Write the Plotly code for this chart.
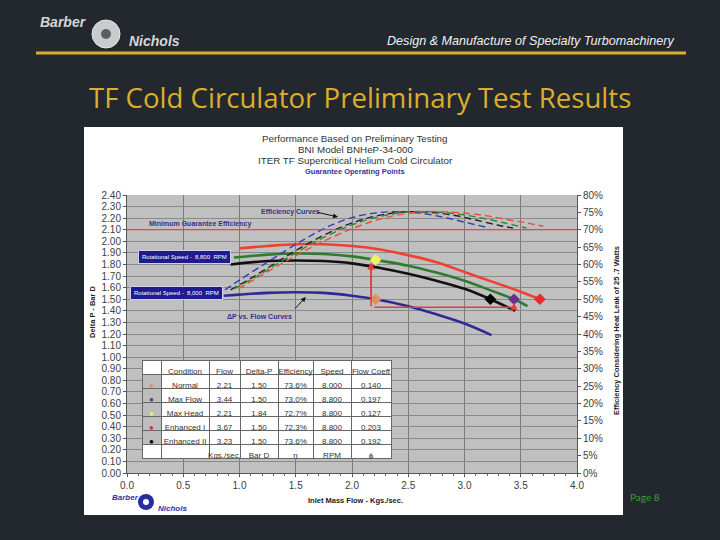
import plotly.graph_objects as go

# ---------------- data ----------------
# Delta-P vs flow curves (left axis, Bar D)
red_flow = [1.00, 1.25, 1.50, 1.75, 2.00, 2.25, 2.50, 2.75, 3.00, 3.25, 3.50, 3.67]
red_dp = [1.94, 1.96, 1.975, 1.975, 1.96, 1.93, 1.88, 1.82, 1.735, 1.65, 1.565, 1.50]
green_flow = [0.95, 1.25, 1.50, 1.75, 2.00, 2.21, 2.50, 2.75, 3.00, 3.25, 3.44, 3.56]
green_dp = [1.86, 1.885, 1.895, 1.89, 1.87, 1.84, 1.79, 1.73, 1.66, 1.57, 1.50, 1.44]
black_flow = [0.92, 1.25, 1.50, 1.75, 2.00, 2.25, 2.50, 2.75, 3.00, 3.23, 3.45]
black_dp = [1.80, 1.83, 1.835, 1.83, 1.81, 1.77, 1.72, 1.66, 1.59, 1.50, 1.40]
blue_flow = [0.86, 1.00, 1.25, 1.50, 1.75, 2.00, 2.21, 2.50, 2.75, 3.00, 3.24]
blue_dp = [1.53, 1.54, 1.555, 1.56, 1.555, 1.53, 1.50, 1.44, 1.37, 1.29, 1.19]

# Efficiency curves (right axis)
eff_blue_flow = [0.87, 1.0, 1.2, 1.4, 1.6, 1.8, 2.0, 2.2, 2.4, 2.6, 2.8, 3.0, 3.22]
eff_blue = [0.527, 0.555, 0.597, 0.638, 0.677, 0.711, 0.735, 0.748, 0.752, 0.748, 0.737, 0.722, 0.705]
eff_black_flow = [0.92, 1.1, 1.3, 1.5, 1.7, 1.9, 2.1, 2.3, 2.5, 2.7, 2.9, 3.1, 3.3, 3.43]
eff_black = [0.527, 0.56, 0.60, 0.64, 0.676, 0.707, 0.73, 0.745, 0.752, 0.75, 0.742, 0.728, 0.713, 0.705]
eff_green_flow = [0.95, 1.15, 1.35, 1.55, 1.75, 1.95, 2.15, 2.35, 2.55, 2.75, 2.95, 3.15, 3.35, 3.55]
eff_green = [0.53, 0.565, 0.605, 0.643, 0.678, 0.708, 0.73, 0.745, 0.752, 0.751, 0.745, 0.734, 0.72, 0.705]
eff_red_flow = [0.99, 1.2, 1.4, 1.6, 1.8, 2.0, 2.2, 2.4, 2.6, 2.8, 3.0, 3.2, 3.4, 3.55, 3.70]
eff_red = [0.53, 0.57, 0.607, 0.643, 0.675, 0.703, 0.726, 0.742, 0.751, 0.752, 0.748, 0.74, 0.728, 0.72, 0.71]

min_guarantee_eff = 0.70

# Guarantee operating points
conditions = ["Normal", "Max Flow", "Max Head", "Enhanced I", "Enhanced II"]
op_flow = [2.21, 3.44, 2.21, 3.67, 3.23]
op_dp = [1.50, 1.50, 1.84, 1.50, 1.50]
op_eff = ["73.6%", "73.0%", "72.7%", "72.3%", "73.6%"]
op_speed = ["8,000", "8,800", "8,800", "8,800", "8,800"]
op_coeff = ["0.140", "0.197", "0.127", "0.203", "0.192"]
op_colors = ["#e0905a", "#6b2f8f", "#f0f060", "#e82a2a", "#000000"]
units = ["", "", "Kgs./sec.", "Bar D", "η", "RPM", "ϕ"]
table_header = ["", "Condition", "Flow", "Delta-P", "Efficiency", "Speed", "Flow Coeff"]

x_ticks = [0.0, 0.5, 1.0, 1.5, 2.0, 2.5, 3.0, 3.5, 4.0]

# ---------------- figure ----------------
W, H = 720, 540
def px(x): return x / W
def py(y): return 1 - y / H

NB = "\u00a0"
def nb(s): return s.replace(" ", NB)

BG = "#23282e"
GOLD = "#dcae2c"
LBL = "#3a2e8c"
FONT = "Liberation Sans"

fig = go.Figure()

dp_series = [
    (blue_flow, blue_dp, "#2e2a96"),
    (black_flow, black_dp, "#111111"),
    (green_flow, green_dp, "#2e7d2e"),
    (red_flow, red_dp, "#f0402f"),
]
for fx, fy, c in dp_series:
    fig.add_trace(go.Scatter(x=fx, y=fy, mode="lines", line=dict(color=c, width=2.6, shape="spline"),
                             showlegend=False, hoverinfo="skip"))

eff_series = [
    (eff_blue_flow, eff_blue, "#3a3ab8"),
    (eff_black_flow, eff_black, "#222222"),
    (eff_green_flow, eff_green, "#2e8b2e"),
    (eff_red_flow, eff_red, "#ee4b3e"),
]
for fx, fy, c in eff_series:
    fig.add_trace(go.Scatter(x=fx, y=fy, yaxis="y2", mode="lines",
                             line=dict(color=c, width=1.4, dash="7px,4px", shape="spline"),
                             showlegend=False, hoverinfo="skip"))

fig.add_trace(go.Scatter(x=[0, 4], y=[min_guarantee_eff] * 2, yaxis="y2", mode="lines",
                         line=dict(color="#e04040", width=1.2), showlegend=False, hoverinfo="skip"))

fig.add_trace(go.Scatter(x=op_flow, y=op_dp, mode="markers",
                         marker=dict(symbol="diamond", size=9, color=op_colors,
                                     line=dict(width=0)),
                         showlegend=False, hoverinfo="skip"))

# Table
dot_col = ["●"] * len(conditions) + [""]
cols = [
    dot_col,
    conditions + [units[1]],
    [f"{v:.2f}" for v in op_flow] + [units[2]],
    [f"{v:.2f}" for v in op_dp] + [units[3]],
    op_eff + [units[4]],
    op_speed + [units[5]],
    op_coeff + [units[6]],
]
cols = [[nb(s) for s in col] for col in cols]
font_colors = [op_colors + ["#333"]] + [["#333"] * 6 for _ in range(6)]
fill_colors = [["#bdbdbd"] * 5 + ["white"]] + [["white"] * 6 for _ in range(6)]
fig.add_trace(go.Table(
    domain=dict(x=[px(142), px(391)], y=[py(459), py(360)]),
    columnwidth=[19, 48, 31, 38, 35, 38, 40],
    header=dict(values=[nb(h) for h in table_header], height=14, fill_color="white",
                line=dict(color="#666", width=1), align="center",
                font=dict(family=FONT, size=8, color="#333")),
    cells=dict(values=cols, height=14, fill_color=fill_colors,
               line=dict(color="#666", width=1), align="center",
               font=dict(family=FONT, size=8, color=font_colors)),
))

shapes = [
    # white picture box
    dict(type="rect", xref="paper", yref="paper", x0=px(84), x1=px(623), y0=py(515), y1=py(127),
         fillcolor="white", line=dict(width=0), layer="below"),
    # gray plot area
    dict(type="rect", xref="x domain", yref="y domain", x0=0, x1=1, y0=0, y1=1,
         fillcolor="#c0c0c0", line=dict(width=0), layer="below"),
    # gold rule
    dict(type="line", xref="paper", yref="paper", x0=px(36), x1=px(686), y0=py(53), y1=py(53),
         line=dict(color=GOLD, width=3)),
    # top logo icon
    dict(type="circle", xref="paper", yref="paper", x0=px(92), x1=px(120), y0=py(48), y1=py(20),
         fillcolor="#c9cbcd", line=dict(color="#e6e6e6", width=1)),
    dict(type="circle", xref="paper", yref="paper", x0=px(101), x1=px(111), y0=py(39), y1=py(29),
         fillcolor="#5a5f66", line=dict(width=0)),
    # bottom logo icon
    dict(type="circle", xref="paper", yref="paper", x0=px(138), x1=px(154), y0=py(510), y1=py(494),
         fillcolor="#2b2ba0", line=dict(width=0)),
    dict(type="circle", xref="paper", yref="paper", x0=px(143), x1=px(149), y0=py(505), y1=py(499),
         fillcolor="white", line=dict(width=0)),
    # red guide lines
    dict(type="line", xref="x", yref="y", x0=2.17, x1=2.17, y0=1.44, y1=1.80,
         line=dict(color="#e83a3a", width=1.5)),
    dict(type="line", xref="x", yref="y", x0=2.20, x1=3.44, y0=1.43, y1=1.43,
         line=dict(color="#e83a3a", width=1.5)),
]

ann = []
def t(x, y, s, size, color, xa="center", ya="middle", bold=False, italic=False, family=FONT, angle=0):
    if bold:
        s = f"<b>{s}</b>"
    if italic:
        s = f"<i>{s}</i>"
    ann.append(dict(xref="paper", yref="paper", x=px(x), y=py(y), text=s, showarrow=False,
                    xanchor=xa, yanchor=ya, textangle=angle,
                    font=dict(family=family, size=size, color=color)))

# slide header
t(38, 22, "Barber", 14, "#d6d6d6", xa="left", bold=True, italic=True)
t(127, 41, "Nichols", 14, "#d6d6d6", xa="left", bold=True, italic=True)
t(676, 41, "Design &amp; Manufacture of Specialty Turbomachinery", 12.6, "#f0f0f0", xa="right", italic=True)
t(360, 97, "TF Cold Circulator Preliminary Test Results", 27.6, GOLD, family="Open Sans")
t(628, 497, "Page 8", 10, "#3c9c3c", xa="left", family="Lato")

# chart titles
t(355, 138, "Performance Based on Preliminary Testing", 9.8, "#333")
t(355, 149, "BNI Model BNHeP-34-000", 9.8, "#333")
t(355, 160, "ITER TF Supercritical Helium Cold Circulator", 9.8, "#333")
t(355, 171, "Guarantee Operating Points", 7.5, "#3b2fa0", bold=True)

# axis titles
t(93, 312, "Delta P - Bar D", 7.5, "#222", bold=True, angle=-90)
t(616, 331, "Efficiency Considering Heat Leak of 25 .7 Watts", 7.5, "#222", bold=True, angle=-90)
t(355, 500, "Inlet Mass Flow - Kgs./sec.", 7.5, "#222", bold=True)

# bottom logo
t(110, 497, "Barber", 8, "#3030a8", xa="left", bold=True, italic=True)
t(156, 508, "Nichols", 8, "#3030a8", xa="left", bold=True, italic=True)

# in-chart labels
def d(x, y, s, size=7, color=LBL, bold=True, **kw):
    ann.append(dict(xref="x", yref="y", x=x, y=y, text=f"<b>{s}</b>" if bold else s, showarrow=False,
                    font=dict(family=FONT, size=size, color=color), **kw))

d(0.65, 2.15, "Minimum Guarantee Efficiency")
d(1.45, 2.25, "Efficiency Curves")
d(1.18, 1.35, "ΔP vs. Flow Curves")
d(0.51, 1.865, nb("Rotational Speed -  8,800  RPM"), size=6, color="white", bold=False,
  bgcolor="#1f1a8f", bordercolor="#d0d0e8", borderwidth=1, borderpad=3)
d(0.44, 1.554, nb("Rotational Speed -  8,000  RPM"), size=6, color="white", bold=False,
  bgcolor="#1f1a8f", bordercolor="#d0d0e8", borderwidth=1, borderpad=3)

# arrows
def arrow(x, y, ax, ay, color="#111", yref="y", width=1, head=2):
    ann.append(dict(xref="x", yref=yref, x=x, y=y, ax=ax, ay=ay, axref="pixel", ayref="pixel",
                    text="", showarrow=True, arrowhead=head, arrowsize=1, arrowwidth=width,
                    arrowcolor=color))

arrow(1.876, 2.21, -22, -5)
arrow(1.59, 1.52, -12, 13)
arrow(2.17, 1.82, 0, 38, color="#e83a3a", width=1.5)
arrow(3.44, 1.47, 0, 5, color="#e83a3a", width=1.5)

axis_font = dict(family=FONT, size=10, color="#404040")

fig.update_layout(
    width=W, height=H, margin=dict(l=0, r=0, t=0, b=0, autoexpand=False),
    paper_bgcolor=BG, plot_bgcolor="rgba(0,0,0,0)",
    showlegend=False,
    xaxis=dict(domain=[px(127), px(577)], range=[0, 4], tickvals=x_ticks, tickformat=".1f",
               automargin=False,
               showgrid=True, gridcolor="#7a7a7a", gridwidth=1, zeroline=False,
               showline=True, linecolor="#555", linewidth=1, ticks="outside", ticklen=3,
               tickcolor="#555", minor=dict(dtick=0.1, ticks="outside", ticklen=2, tickcolor="#666", showgrid=False),
               tickfont=axis_font),
    yaxis=dict(domain=[py(473), py(195)], range=[0, 2.4], dtick=0.1, tickformat=".2f",
               automargin=False,
               showgrid=True, gridcolor="#8a8a8a", gridwidth=1, zeroline=False,
               showline=True, linecolor="#555", linewidth=1, ticks="outside", ticklen=3,
               tickcolor="#555", tickfont=axis_font),
    yaxis2=dict(overlaying="y", side="right", range=[0, 0.8], dtick=0.05, tickformat=".0%",
                automargin=False,
                showgrid=False, zeroline=False, showline=True, linecolor="#555", linewidth=1,
                ticks="outside", ticklen=3, tickcolor="#555", tickfont=axis_font),
    shapes=shapes,
    annotations=ann,
)

fig.write_html("out.html", config={"displayModeBar": False},
               post_script="document.body.style.margin='0';document.body.style.background='#23282e';")
